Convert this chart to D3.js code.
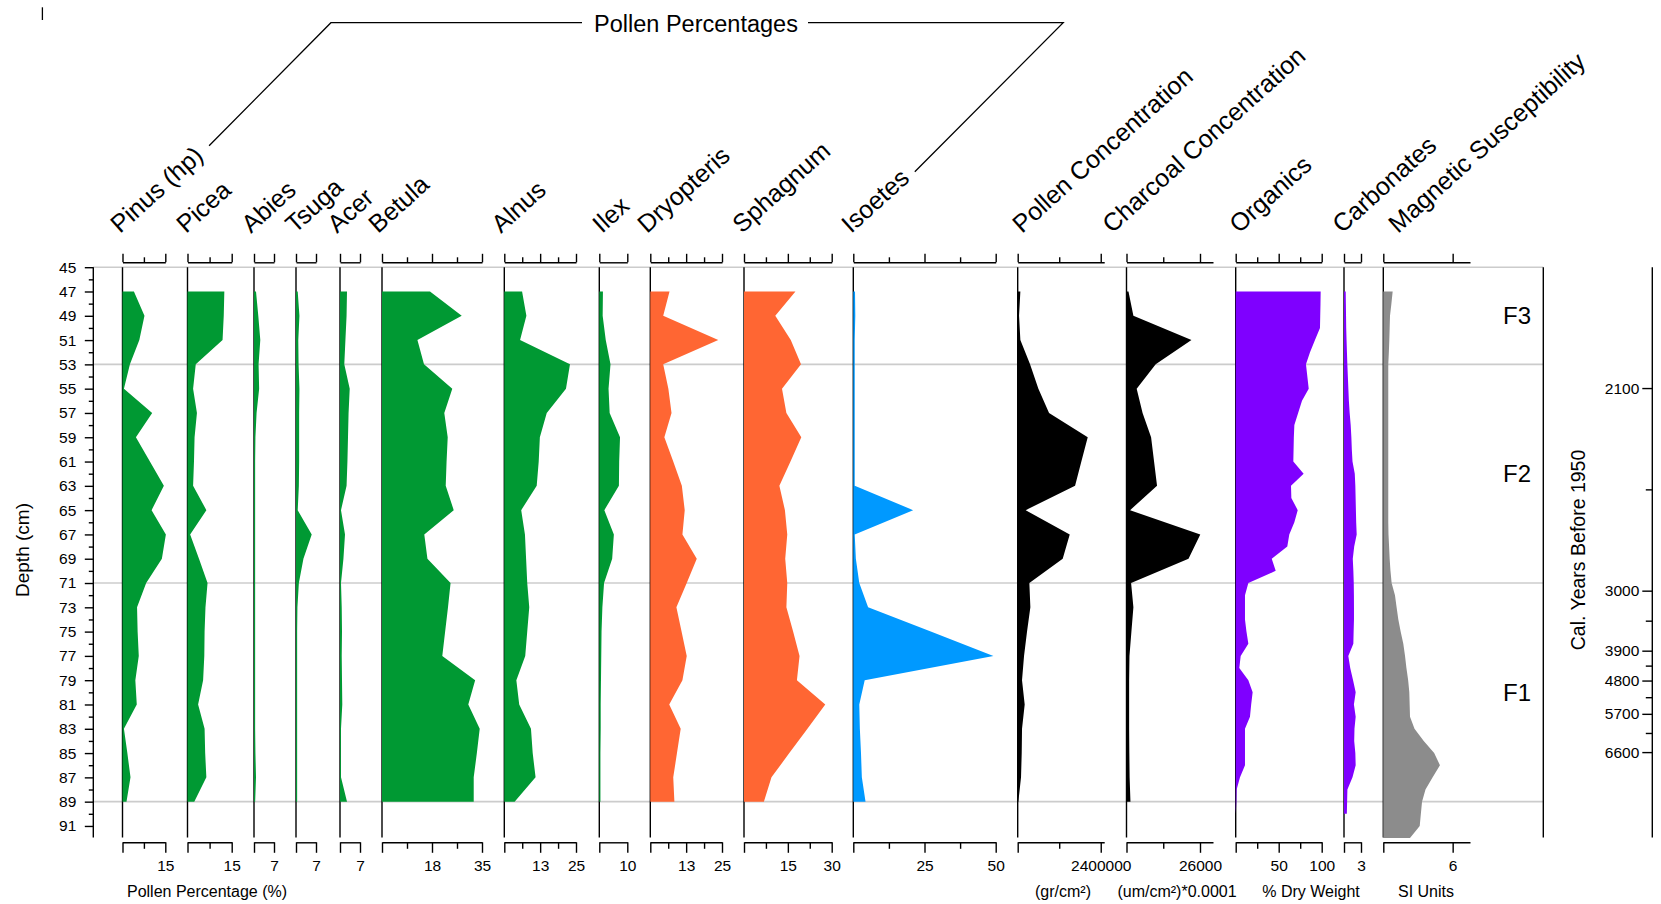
<!DOCTYPE html>
<html>
<head>
<meta charset="utf-8">
<script src="https://cdn.jsdelivr.net/npm/d3@7"></script>
<style>
  body { margin: 0; background: #fff; }
  svg text { font-family: "Liberation Sans", Arial, sans-serif; fill: #000; }
</style>
</head>
<body>
<svg id="chart" width="1661" height="904"></svg>
<script>
// DEPTHS (cm)
const pollenDepths = [47, 49, 51, 53, 55, 57, 59, 61, 63, 65, 67, 69, 71, 73, 75, 77, 79, 81, 83, 85, 87, 89];
const sedDepths = [47, 48, 49, 50, 51, 52, 53, 54, 55, 56, 57, 58, 59, 60, 61, 62, 63, 64, 65, 66, 67, 68,
    69, 70, 71, 72, 73, 74, 75, 76, 77, 78, 79, 80, 81, 82, 83, 84, 85, 86, 87, 88, 89, 90];
const magDepths = [47, 48, 49, 50, 51, 52, 53, 54, 55, 56, 57, 58, 59, 60, 61, 62, 63, 64, 65, 66, 67, 68,
    69, 70, 71, 72, 73, 74, 75, 76, 77, 78, 79, 80, 81, 82, 83, 84, 85, 86, 87, 88, 89, 90, 91, 92];

// POLLEN PERCENTAGES
const pinus = [4.0, 7.7, 5.9, 2.6, 0.5, 10.4, 4.7, 9.6, 14.5, 10.2, 15.2, 13.8, 8.3, 5.1, 5.3, 5.7, 4.5, 5.0, 0.5, 1.7, 2.8, 1.4];
const picea = [12.5, 12.3, 11.9, 2.8, 1.9, 3.2, 2.4, 2.2, 1.9, 6.4, 0.9, 3.9, 6.8, 6.1, 5.8, 5.7, 5.3, 3.6, 5.8, 6.0, 6.4, 2.3];
const abies = [0.7, 1.5, 2.2, 1.6, 1.8, 0.9, 0.5, 0.4, 0.4, 0.4, 0.4, 0.4, 0.4, 0.4, 0.4, 0.4, 0.4, 0.4, 0.4, 0.5, 0.7, 0.4];
const tsuga = [0.6, 1.2, 0.8, 0.9, 1.2, 1.1, 1.1, 1.1, 1.0, 0.6, 5.5, 2.6, 1.0, 0.5, 0.4, 0.4, 0.4, 0.4, 0.4, 0.4, 0.4, 0.4];
const acer = [2.45, 2.3, 1.9, 1.5, 3.4, 3.0, 2.8, 2.6, 2.3, 0.35, 1.75, 1.2, 0.35, 0.6, 0.7, 0.6, 0.7, 0.8, 0.35, 0.3, 0.35, 2.45];
const betula = [16.8, 27.9, 12.4, 14.7, 24.6, 21.8, 23.0, 22.6, 22.3, 25.1, 14.8, 15.9, 24.0, 23.1, 22.1, 21.1, 32.6, 30.2, 34.2, 33.2, 32.1, 32.1];
const alnus = [6.2, 7.7, 5.5, 22.9, 21.5, 14.8, 12.4, 12.0, 11.3, 5.9, 7.2, 7.6, 8.0, 8.7, 8.0, 7.3, 4.2, 5.2, 9.3, 9.9, 10.9, 3.6];
const ilex = [1.3, 1.2, 2.3, 4.0, 3.3, 3.7, 7.4, 7.1, 7.0, 1.8, 5.2, 4.6, 1.7, 1.1, 0.8, 0.7, 0.6, 0.5, 0.5, 0.4, 0.4, 0.4];
const dryopteris = [6.7, 4.5, 23.7, 4.5, 6.3, 7.4, 4.9, 8.0, 11.0, 12.0, 11.2, 16.2, 12.7, 9.1, 10.9, 12.7, 11.2, 6.6, 10.6, 9.3, 8.0, 8.4];
const sphagnum = [17.6, 10.7, 16.0, 19.5, 13.0, 14.5, 19.6, 15.9, 12.1, 14.0, 14.8, 14.1, 14.8, 14.5, 16.8, 19.0, 18.1, 27.8, 21.7, 15.5, 9.4, 6.8];
const isoetes = [0.6, 0.7, 0.5, 0.5, 0.5, 0.5, 0.5, 0.5, 0.5, 21.0, 0.5, 0.9, 2.1, 5.2, 27.2, 49.2, 4.0, 2.1, 2.3, 2.7, 3.0, 4.3];

// CONCENTRATIONS
const pollenConc = [77000, 39000, 77000, 357000, 598000, 906000, 2024000, 1840000, 1658000, 231000, 1504000,
    1301000, 337000, 366000, 270000, 183000, 125000, 202000, 125000, 116000, 96000, 19000];
const charcoalConc = [700, 2440, 22980, 10330, 3600, 5690, 8700, 9750, 10800, 1280, 26100,
    21940, 1625, 2440, 1740, 1045, 930, 930, 930, 1000, 1100, 1400];

// SEDIMENT
const organics = [98.8, 98.6, 98.3, 98.0, 92.2, 86.4, 81.7, 83.3, 84.9, 77.1, 72.6, 68.2, 67.6, 67.3, 67.0, 79.0,
    64.3, 64.7, 72.1, 68.2, 62.3, 60.0, 41.9, 46.5, 14.7, 10.8, 10.8, 10.8, 12.5, 14.7, 5.8, 4.2, 14.7, 19.7,
    18.0, 16.6, 10.8, 10.8, 10.8, 10.8, 5.0, 1.1, 0.8, 0];
const carbonates = [0.3, 0.33, 0.36, 0.39, 0.45, 0.52, 0.59, 0.68, 0.77, 0.86, 1.0, 1.18, 1.3, 1.38, 1.5, 1.9,
    2.0, 2.05, 2.1, 2.15, 2.24, 1.8, 1.55, 1.65, 1.72, 1.75, 1.76, 1.76, 1.7, 1.65, 0.76, 1.1, 1.6, 2.06,
    1.75, 2.06, 1.85, 1.8, 2.0, 2.06, 1.5, 0.6, 0.55, 0.5];
const magSus = [0.81, 0.7, 0.58, 0.55, 0.52, 0.48, 0.43, 0.43, 0.43, 0.43, 0.43, 0.43, 0.43, 0.43, 0.43, 0.43,
    0.43, 0.43, 0.43, 0.43, 0.45, 0.5, 0.55, 0.62, 0.72, 1.01, 1.15, 1.3, 1.5, 1.73, 1.88, 2.0, 2.15, 2.25,
    2.28, 2.31, 2.7, 3.5, 4.4, 4.9, 4.27, 3.65, 3.35, 3.25, 3.15, 2.31];

// ZONES + AGE MODEL
const zoneBounds = [45, 53, 71, 89];
const zoneNames = ["F3", "F2", "F1"];
const depthTicks = [45, 47, 49, 51, 53, 55, 57, 59, 61, 63, 65, 67, 69, 71, 73, 75, 77, 79, 81, 83, 85, 87, 89, 91];
const depthMinor = [46, 48, 50, 52, 54, 56, 58, 60, 62, 64, 66, 68, 70, 72, 74, 76, 78, 80, 82, 84, 86, 88, 90, 92];
const ageTicks = [2100, 3000, 3900, 4800, 5700, 6600];
const ageDepths = [54.95, 71.63, 76.57, 79.03, 81.77, 84.92];
const ageMinor = [2550, 3450, 4350, 5250, 6150];

const GREEN = "#009933", ORANGE = "#ff6633", BLUE = "#0099ff", PURPLE = "#7f00ff", GREY = "#8c8c8c";

// panel layout: x range, axis max, ticks, colour, label anchor
const panels = [
    { name: "Pinus (hp)", vals: pinus, depths: pollenDepths, x0: 122.5, x1: 165.3, max: 15, major: [0, 15], minor: [7.5], lab: [15], color: GREEN, lx: 120 },
    { name: "Picea", vals: picea, depths: pollenDepths, x0: 187.5, x1: 231.7, max: 15, major: [0, 15], minor: [7.5], lab: [15], color: GREEN, lx: 186 },
    { name: "Abies", vals: abies, depths: pollenDepths, x0: 254, x1: 274, max: 7, major: [0, 7], minor: [], lab: [7], color: GREEN, lx: 251 },
    { name: "Tsuga", vals: tsuga, depths: pollenDepths, x0: 296, x1: 316, max: 7, major: [0, 7], minor: [], lab: [7], color: GREEN, lx: 295 },
    { name: "Acer", vals: acer, depths: pollenDepths, x0: 340, x1: 360, max: 7, major: [0, 7], minor: [], lab: [7], color: GREEN, lx: 337 },
    { name: "Betula", vals: betula, depths: pollenDepths, x0: 382, x1: 482, max: 35, major: [0, 17.5, 35], minor: [8.75, 26.25], lab: [17.5, 35], color: GREEN, lx: 378 },
    { name: "Alnus", vals: alnus, depths: pollenDepths, x0: 504.3, x1: 576, max: 25, major: [0, 12.5, 25], minor: [6.25, 18.75], lab: [12.5, 25], color: GREEN, lx: 501 },
    { name: "Ilex", vals: ilex, depths: pollenDepths, x0: 599.3, x1: 627.3, max: 10, major: [0, 10], minor: [], lab: [10], color: GREEN, lx: 602 },
    { name: "Dryopteris", vals: dryopteris, depths: pollenDepths, x0: 650.3, x1: 722, max: 25, major: [0, 12.5, 25], minor: [6.25, 18.75], lab: [12.5, 25], color: ORANGE, lx: 647 },
    { name: "Sphagnum", vals: sphagnum, depths: pollenDepths, x0: 744, x1: 831.7, max: 30, major: [0, 15, 30], minor: [7.5, 22.5], lab: [15, 30], color: ORANGE, lx: 742 },
    { name: "Isoetes", vals: isoetes, depths: pollenDepths, x0: 853.3, x1: 995.7, max: 50, major: [0, 25, 50], minor: [12.5, 37.5], lab: [25, 50], color: BLUE, lx: 851 },
    { name: "Pollen Concentration", vals: pollenConc, depths: pollenDepths, x0: 1017.7, x1: 1104.2, max: 2500000, major: [0, 2400000], minor: [1200000], lab: [2400000], color: "#000", lx: 1022 },
    { name: "Charcoal Concentration", vals: charcoalConc, depths: pollenDepths, x0: 1126.5, x1: 1213, max: 30600, major: [0, 26000], minor: [13000], lab: [26000], color: "#000", lx: 1112 },
    { name: "Organics", vals: organics, depths: sedDepths, x0: 1235.7, x1: 1321.7, max: 100, major: [0, 50, 100], minor: [25, 75], lab: [50, 100], color: PURPLE, lx: 1239 },
    { name: "Carbonates", vals: carbonates, depths: sedDepths, x0: 1344, x1: 1361, max: 3, major: [0, 3], minor: [], lab: [3], color: PURPLE, lx: 1342 },
    { name: "Magnetic Susceptibility", vals: magSus, depths: magDepths, x0: 1383.3, x1: 1470, max: 7.5, major: [0, 6], minor: [], lab: [6], color: GREY, lx: 1398 }
];

const units = [
    { text: "Pollen Percentage (%)", x: 207 },
    { text: "(gr/cm\u00b2)", x: 1063 },
    { text: "(um/cm\u00b2)*0.0001", x: 1177 },
    { text: "% Dry Weight", x: 1311 },
    { text: "SI Units", x: 1426 }
];

const svg = d3.select("#chart");
const y = d3.scaleLinear().domain([45, 92]).range([267.2, 838.1]);
const yEnd = 837.5, axTop = 262.3, axBot = 842.3;
const LW = 1.4;

function styleAxis(g, size) {
    g.selectAll("path, line").attr("stroke", "#000").attr("stroke-width", LW);
    g.selectAll("text").attr("font-family", "Liberation Sans, Arial, sans-serif").attr("font-size", size).attr("fill", "#000");
    g.attr("font-family", null);
}

// zone lines
svg.append("g").selectAll("line").data(zoneBounds).join("line")
    .attr("x1", 93).attr("x2", 1543.3)
    .attr("y1", d => y(d)).attr("y2", d => y(d))
    .attr("stroke", "#cccccc").attr("stroke-width", 1.6);

// depth axis
const dAx = svg.append("g").attr("transform", "translate(93.3,0)")
    .call(d3.axisLeft(y).tickValues(depthTicks).tickSize(8.5).tickSizeOuter(0).tickPadding(8.5));
styleAxis(dAx, "15.5px");
dAx.select(".domain").attr("d", `M0,${y(45)}V${yEnd}`);
const dMin = svg.append("g").attr("transform", "translate(93.3,0)")
    .call(d3.axisLeft(y).tickValues(depthMinor.filter(d => y(d) <= yEnd)).tickSize(4.5).tickFormat(""));
dMin.select(".domain").remove();
styleAxis(dMin, "1px");

svg.append("text").attr("transform", "translate(22,550) rotate(-90)")
    .attr("text-anchor", "middle").attr("dy", "0.35em").attr("font-size", "19px").text("Depth (cm)");

// panels
panels.forEach(p => {
    const x = d3.scaleLinear().domain([0, p.max]).range([p.x0, p.x1]);
    const g = svg.append("g");
    const rows = p.depths.map((d, i) => ({ depth: d, v: p.vals[i] }));

    g.append("line")
        .attr("x1", x(0)).attr("x2", x(0)).attr("y1", y(45)).attr("y2", yEnd)
        .attr("stroke", "#000").attr("stroke-width", LW);

    g.append("path").datum(rows)
        .attr("fill", p.color)
        .attr("d", d3.area().y(r => y(r.depth)).x0(x(0)).x1(r => x(r.v)));

    // top
    const t1 = g.append("g").attr("transform", `translate(0,${axTop})`)
        .call(d3.axisTop(x).tickValues(p.major).tickSize(8.5).tickSizeOuter(0).tickFormat(""));
    styleAxis(t1, "1px");
    if (p.minor.length) {
        const t2 = g.append("g").attr("transform", `translate(0,${axTop})`)
            .call(d3.axisTop(x).tickValues(p.minor).tickSize(5).tickFormat(""));
        t2.select(".domain").remove();
        styleAxis(t2, "1px");
    }

    // bottom
    const b1 = g.append("g").attr("transform", `translate(0,${axBot})`)
        .call(d3.axisBottom(x).tickValues(p.major).tickSize(10.5).tickSizeOuter(0).tickPadding(7)
            .tickFormat(d => p.lab.includes(d) ? Math.round(d) : ""));
    styleAxis(b1, "15.5px");
    if (p.minor.length) {
        const b2 = g.append("g").attr("transform", `translate(0,${axBot})`)
            .call(d3.axisBottom(x).tickValues(p.minor).tickSize(6.5).tickFormat(""));
        b2.select(".domain").remove();
        styleAxis(b2, "1px");
    }

    // name
    svg.append("text")
        .attr("transform", `translate(${p.lx},234) rotate(-42)`)
        .attr("font-size", "25px")
        .text(p.name);
});

// units under bottom axes
svg.append("g").selectAll("text").data(units).join("text")
    .attr("x", d => d.x).attr("y", 896.5)
    .attr("text-anchor", "middle").attr("font-size", "16px")
    .text(d => d.text);

// right frame line
svg.append("line").attr("x1", 1543.3).attr("x2", 1543.3).attr("y1", y(45)).attr("y2", yEnd)
    .attr("stroke", "#000").attr("stroke-width", LW);

// zone labels
svg.append("g").selectAll("text").data(zoneNames).join("text")
    .attr("x", 1517).attr("y", (d, i) => y((zoneBounds[i] + zoneBounds[i + 1]) / 2))
    .attr("dy", "0.36em").attr("text-anchor", "middle").attr("font-size", "24px")
    .text(d => d);

// age axis
const ageY = d3.scaleLinear().domain(ageTicks).range(ageDepths.map(d => y(d)));
svg.append("line").attr("x1", 1652.3).attr("x2", 1652.3).attr("y1", y(45)).attr("y2", yEnd)
    .attr("stroke", "#000").attr("stroke-width", LW);
const aAx = svg.append("g").attr("transform", "translate(1652.3,0)")
    .call(d3.axisLeft(ageY).tickValues(ageTicks).tickSize(10).tickPadding(3).tickFormat(d3.format("d")));
aAx.select(".domain").remove();
styleAxis(aAx, "15.5px");
const aMin = svg.append("g").attr("transform", "translate(1652.3,0)")
    .call(d3.axisLeft(ageY).tickValues(ageMinor).tickSize(6.5).tickFormat(""));
aMin.select(".domain").remove();
styleAxis(aMin, "1px");

svg.append("text").attr("transform", "translate(1578,550) rotate(-90)")
    .attr("text-anchor", "middle").attr("dy", "0.35em").attr("font-size", "19.5px")
    .text("Cal. Years Before 1950");

// group header
svg.append("path")
    .attr("d", "M209.1,145.7L330.9,22.7H582M808,22.7H1063.2L914.8,171.7")
    .attr("fill", "none").attr("stroke", "#000").attr("stroke-width", 1.3);
svg.append("text").attr("x", 696).attr("y", 31.7).attr("text-anchor", "middle")
    .attr("font-size", "23.5px").text("Pollen Percentages");

// stray mark top-left
svg.append("line").attr("x1", 42.4).attr("x2", 42.4).attr("y1", 7.3).attr("y2", 20)
    .attr("stroke", "#000").attr("stroke-width", 1.3);
</script>
</body>
</html>
